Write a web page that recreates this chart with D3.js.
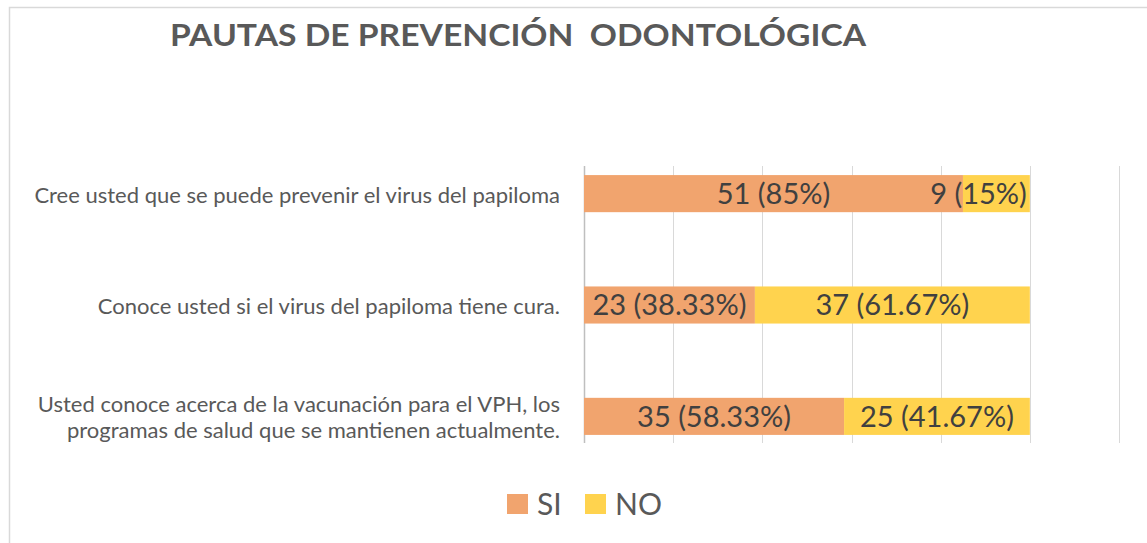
<!DOCTYPE html>
<html><head><meta charset="utf-8">
<script src="https://cdn.jsdelivr.net/npm/d3@7"></script>
<style>
html,body{margin:0;padding:0;background:#fff;}
svg{display:block;}
text{font-family:Lato,"Open Sans",sans-serif;}
</style></head>
<body>
<script>
const title = "PAUTAS DE PREVENCIÓN  ODONTOLÓGICA";
const categories = [
  "Cree usted que se puede prevenir el virus del papiloma",
  "Conoce usted si el virus del papiloma tiene cura.",
  "Usted conoce acerca de la vacunación para el VPH, los programas de salud que se mantienen actualmente."
];
const seriesNames = ["SI", "NO"];
const siValues = [51, 23, 35];
const noValues = [9, 37, 25];
const colors = ["#F1A46E", "#FFD34E"];

const W = 1147, H = 543;
const svg = d3.select("body").append("svg").attr("width", W).attr("height", H);

// chart border
svg.append("rect").attr("x", 9.5).attr("y", 7.5).attr("width", W + 20).attr("height", H + 20)
  .attr("fill", "none").attr("stroke", "#d9d9d9").attr("stroke-width", 1.5);

svg.append("text").attr("x", 170).attr("y", 46)
  .attr("font-size", 30).attr("font-weight", "bold").attr("fill", "#595959")
  .attr("textLength", 696).attr("lengthAdjust", "spacingAndGlyphs")
  .style("white-space", "pre").text(title);

const rows = categories.map((c, i) => {
  const tot = siValues[i] + noValues[i];
  return {cat: c, si: siValues[i], no: noValues[i], tot};
});

const x = d3.scaleLinear().domain([0, 1.2]).range([584, 1119]);
const y = d3.scaleBand().domain(categories).range([138, 472]).paddingInner(0.667).paddingOuter(0.333);
const gridTop = 166, gridBottom = 443;

// gridlines
svg.append("g").selectAll("line").data(x.ticks(6)).join("line")
  .attr("x1", d => Math.round(x(d)) + 0.5).attr("x2", d => Math.round(x(d)) + 0.5)
  .attr("y1", gridTop).attr("y2", gridBottom)
  .attr("stroke", d => d === 0 ? "#bfbfbf" : "#d9d9d9").attr("stroke-width", d => d === 0 ? 1.5 : 1);

const stack = d3.stack().keys(["si", "no"]).value((d, k) => d[k] / d.tot);
const layers = stack(rows);

const fmtPct = v => String(+(v * 100).toFixed(2)) + "%";

layers.forEach((layer, li) => {
  const g = svg.append("g");
  g.selectAll("rect").data(layer).join("rect")
    .attr("x", d => x(d[0])).attr("width", d => x(d[1]) - x(d[0]))
    .attr("y", d => y(d.data.cat)).attr("height", y.bandwidth())
    .attr("fill", colors[li]);
});
layers.forEach((layer, li) => {
  const key = layer.key;
  svg.append("g").selectAll("text").data(layer).join("text")
    .attr("y", d => y(d.data.cat) + y.bandwidth() / 2)
    .attr("dy", "0.36em").attr("text-anchor", "middle")
    .attr("font-size", 29).attr("fill", "#404040")
    .text(d => d.data[key] + " (" + fmtPct(d.data[key] / d.data.tot) + ")")
    .each(function(d) {
      const w = this.getComputedTextLength();
      let cx = (x(d[0]) + x(d[1])) / 2;
      const maxRight = x(1) - 3;
      if (cx + w / 2 > maxRight) cx = maxRight - w / 2;
      d3.select(this).attr("x", cx);
    });
});

// category labels with wrapping
const fs = 22, maxW = 540, lineH = 26;
categories.forEach(c => {
  const t = svg.append("text").attr("text-anchor", "end").attr("font-size", fs).attr("fill", "#595959");
  const words = c.split(" ");
  let lines = [], cur = "";
  const probe = svg.append("text").attr("font-size", fs);
  words.forEach(w => {
    const test = cur ? cur + " " + w : w;
    probe.text(test);
    if (probe.node().getComputedTextLength() > maxW && cur) { lines.push(cur); cur = w; }
    else cur = test;
  });
  lines.push(cur);
  probe.remove();
  const cy = y(c) + y.bandwidth() / 2 + 1;
  lines.forEach((ln, i) => {
    t.append("tspan").attr("x", 560)
      .attr("y", cy + (i - (lines.length - 1) / 2) * lineH)
      .attr("dy", "0.36em").text(ln);
  });
});

// legend
const leg = svg.append("g");
const legX = [507, 585];
seriesNames.forEach((n, i) => {
  leg.append("rect").attr("x", legX[i]).attr("y", 494).attr("width", 21).attr("height", 20).attr("fill", colors[i]);
  leg.append("text").attr("x", legX[i] + 30).attr("y", 504).attr("dy", "0.36em")
    .attr("font-size", 30).attr("fill", "#595959").text(n);
});
</script>
</body></html>
